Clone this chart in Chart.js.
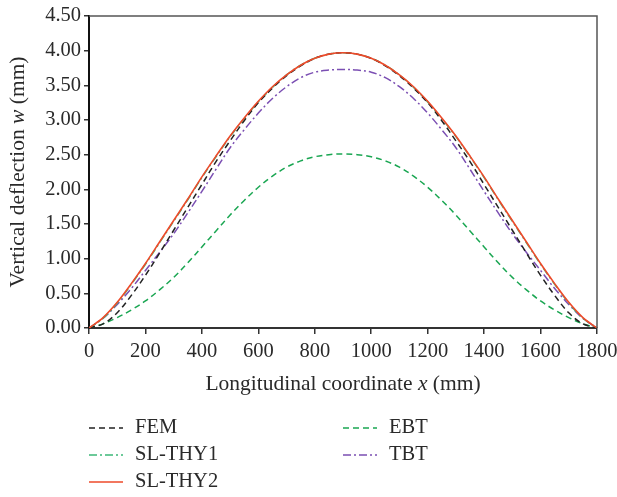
<!DOCTYPE html>
<html>
<head>
<meta charset="utf-8">
<script src="https://cdn.jsdelivr.net/npm/chart.js@4.4.1/dist/chart.umd.min.js"></script>
<style>
  html, body { margin: 0; padding: 0; background: #ffffff; }
  canvas { display: block; }
</style>
</head>
<body>
<canvas id="c" width="617" height="497"></canvas>
<script>
// ---- Data ----
const xCoords = [0, 50, 100, 150, 200, 250, 300, 350, 400, 450, 500, 550, 600, 650, 700, 750, 800, 850, 900,
  950, 1000, 1050, 1100, 1150, 1200, 1250, 1300, 1350, 1400, 1450, 1500, 1550, 1600, 1650, 1700, 1750, 1800];

const femValues = [0, 0.06, 0.22, 0.47, 0.76, 1.08, 1.41, 1.74, 2.07, 2.40, 2.70, 2.99, 3.25, 3.46, 3.64, 3.78, 3.89, 3.95, 3.97,
  3.95, 3.89, 3.78, 3.64, 3.46, 3.25, 2.99, 2.70, 2.40, 2.07, 1.74, 1.41, 1.08, 0.76, 0.47, 0.22, 0.06, 0];

const slThy1Values = [0, 0.14, 0.36, 0.63, 0.92, 1.23, 1.54, 1.85, 2.17, 2.47, 2.76, 3.02, 3.26, 3.47, 3.65, 3.79, 3.89, 3.95, 3.97,
  3.95, 3.89, 3.79, 3.65, 3.47, 3.26, 3.02, 2.76, 2.47, 2.17, 1.85, 1.54, 1.23, 0.92, 0.63, 0.36, 0.14, 0];

const slThy2Values = [0, 0.15, 0.37, 0.64, 0.93, 1.24, 1.55, 1.86, 2.18, 2.48, 2.77, 3.03, 3.27, 3.48, 3.65, 3.79, 3.89, 3.95, 3.97,
  3.95, 3.89, 3.79, 3.65, 3.48, 3.27, 3.03, 2.77, 2.48, 2.18, 1.86, 1.55, 1.24, 0.93, 0.64, 0.37, 0.15, 0];

const ebtValues = [0, 0.06, 0.15, 0.26, 0.39, 0.55, 0.73, 0.94, 1.17, 1.40, 1.63, 1.84, 2.03, 2.19, 2.32, 2.41, 2.47, 2.50, 2.51,
  2.50, 2.47, 2.41, 2.32, 2.19, 2.03, 1.84, 1.63, 1.40, 1.17, 0.94, 0.73, 0.55, 0.39, 0.26, 0.15, 0.06, 0];

const tbtValues = [0, 0.14, 0.34, 0.57, 0.83, 1.09, 1.36, 1.66, 1.97, 2.29, 2.60, 2.86, 3.10, 3.31, 3.48, 3.61, 3.69, 3.72, 3.73,
  3.72, 3.69, 3.61, 3.48, 3.31, 3.10, 2.86, 2.60, 2.29, 1.97, 1.66, 1.36, 1.09, 0.83, 0.57, 0.34, 0.14, 0];

const xTickLabels = ["0", "200", "400", "600", "800", "1000", "1200", "1400", "1600", "1800"];
const yTickLabels = ["0.00", "0.50", "1.00", "1.50", "2.00", "2.50", "3.00", "3.50", "4.00", "4.50"];

const seriesNames = ["FEM", "SL-THY1", "SL-THY2", "EBT", "TBT"];

// ---- Build datasets ----
const pts = (vals) => xCoords.map((x, i) => ({ x: x, y: vals[i] }));
const SERIF = "'Liberation Serif', 'DejaVu Serif', serif";

const datasets = [
  { label: seriesNames[0], data: pts(femValues), borderColor: '#222222', borderDash: [6, 4], borderWidth: 1.5, order: 1 },
  { label: seriesNames[1], data: pts(slThy1Values), borderColor: '#3cb878', borderDash: [8, 3, 2, 3], borderWidth: 1.5, order: 2 },
  { label: seriesNames[2], data: pts(slThy2Values), borderColor: '#ee4a2a', borderDash: [], borderWidth: 1.6, order: 0 },
  { label: seriesNames[3], data: pts(ebtValues), borderColor: '#1aa652', borderDash: [6, 4], borderWidth: 1.5, order: 4 },
  { label: seriesNames[4], data: pts(tbtValues), borderColor: '#7b4fb3', borderDash: [8, 3, 2, 3], borderWidth: 1.5, order: 3 }
];
datasets.forEach(d => { d.fill = false; d.pointRadius = 0; d.tension = 0.35; });

// ---- Plugin: frame, axis titles, legend ----
function drawMixed(ctx, parts, cx, cy, size) {
  let total = 0;
  parts.forEach(p => { ctx.font = (p.it ? 'italic ' : '') + size + 'px ' + SERIF; p.w = ctx.measureText(p.t).width; total += p.w; });
  let x = cx - total / 2;
  ctx.textAlign = 'left';
  ctx.textBaseline = 'middle';
  parts.forEach(p => { ctx.font = (p.it ? 'italic ' : '') + size + 'px ' + SERIF; ctx.fillText(p.t, x, cy); x += p.w; });
}

const decor = {
  id: 'decor',
  afterDraw(chart) {
    const ctx = chart.ctx;
    const a = chart.chartArea;
    ctx.save();
    // top and right frame
    ctx.strokeStyle = '#555555';
    ctx.lineWidth = 1.5;
    ctx.setLineDash([]);
    ctx.beginPath();
    ctx.moveTo(a.left, a.top);
    ctx.lineTo(a.right, a.top);
    ctx.lineTo(a.right, a.bottom);
    ctx.stroke();

    ctx.fillStyle = '#2a2a2a';
    // x title
    drawMixed(ctx, [{ t: 'Longitudinal coordinate ' }, { t: 'x', it: true }, { t: ' (mm)' }], (a.left + a.right) / 2, 384, 21.5);
    // y title
    ctx.save();
    ctx.translate(18, (a.top + a.bottom) / 2);
    ctx.rotate(-Math.PI / 2);
    drawMixed(ctx, [{ t: 'Vertical deflection ' }, { t: 'w', it: true }, { t: ' (mm)' }], 0, 0, 21.5);
    ctx.restore();

    // legend: two columns
    const layout = [
      { i: 0, col: 0, row: 0 }, { i: 3, col: 1, row: 0 },
      { i: 1, col: 0, row: 1 }, { i: 4, col: 1, row: 1 },
      { i: 2, col: 0, row: 2 }
    ];
    const colX = [89, 343];
    const rowY = [428, 455, 482];
    layout.forEach(it => {
      const ds = chart.data.datasets[it.i];
      const x0 = colX[it.col], y = rowY[it.row];
      ctx.strokeStyle = ds.borderColor;
      ctx.lineWidth = ds.borderWidth;
      ctx.setLineDash(ds.borderDash || []);
      ctx.beginPath();
      ctx.moveTo(x0, y);
      ctx.lineTo(x0 + 34, y);
      ctx.stroke();
      ctx.setLineDash([]);
      ctx.fillStyle = '#2a2a2a';
      ctx.font = '20.5px ' + SERIF;
      ctx.textAlign = 'left';
      ctx.textBaseline = 'middle';
      ctx.fillText(ds.label, x0 + 46, y);
    });
    ctx.restore();
  }
};

new Chart(document.getElementById('c'), {
  type: 'line',
  data: { datasets: datasets },
  plugins: [decor],
  options: {
    responsive: false,
    animation: false,
    devicePixelRatio: 1,
    layout: { padding: { top: 16, right: 20, left: 0, bottom: 0 } },
    plugins: { legend: { display: false }, tooltip: { enabled: false } },
    scales: {
      x: {
        type: 'linear', min: 0, max: 1800,
        afterBuildTicks: (s) => { s.ticks = xTickLabels.map(v => ({ value: parseFloat(v) })); },
        ticks: { font: { family: SERIF, size: 20.5 }, color: '#2a2a2a', padding: 5, maxRotation: 0, autoSkip: false,
          callback: (v, i) => xTickLabels[i] },
        grid: { drawOnChartArea: false, drawTicks: true, tickLength: 6, color: '#333333', lineWidth: 1.5 },
        border: { color: '#333333', width: 2 },
        afterFit: (s) => { s.height = 169; s.paddingRight = 0; s.paddingLeft = 0; }
      },
      y: {
        type: 'linear', min: 0, max: 4.5,
        afterBuildTicks: (s) => { s.ticks = yTickLabels.map(v => ({ value: parseFloat(v) })); },
        ticks: { font: { family: SERIF, size: 20.5 }, color: '#2a2a2a', padding: 3,
          callback: (v, i) => yTickLabels[i] },
        grid: { drawOnChartArea: false, drawTicks: true, tickLength: 5, color: '#333333', lineWidth: 1.5 },
        border: { color: '#111111', width: 2 },
        afterFit: (s) => { s.width = 89; s.paddingTop = 0; s.paddingBottom = 0; }
      }
    }
  }
});
</script>
</body>
</html>
